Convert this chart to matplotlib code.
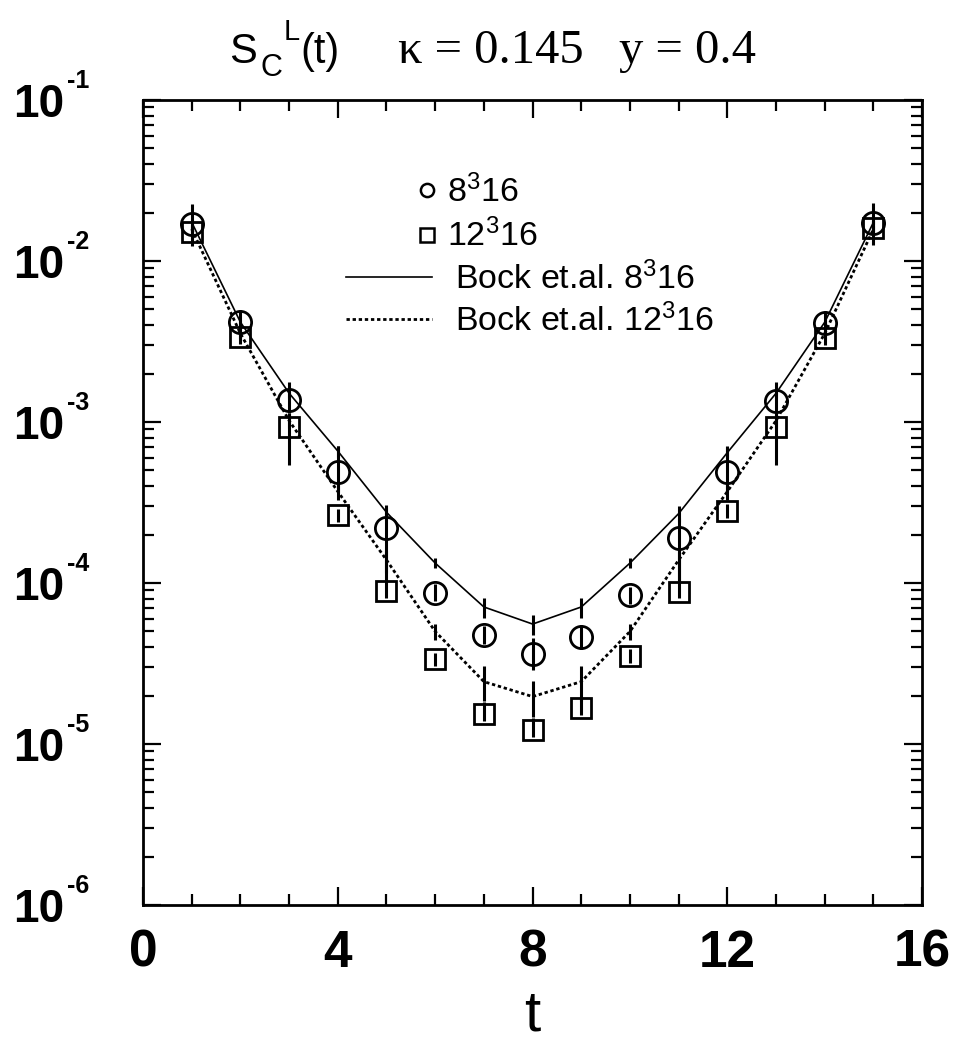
import numpy as np
import matplotlib
matplotlib.use('Agg')
import matplotlib.pyplot as plt
import matplotlib.transforms as mtransforms
from matplotlib.lines import Line2D
from matplotlib.ticker import MultipleLocator, LogLocator, NullFormatter, FixedLocator

# Fonts: bold sans for ticks, serif for the kappa / y part of the title
plt.rcParams['font.family'] = ['Liberation Sans', 'DejaVu Sans']
plt.rcParams['mathtext.fontset'] = 'custom'
plt.rcParams['mathtext.rm'] = 'Liberation Sans'
plt.rcParams['mathtext.sf'] = 'Liberation Sans'
plt.rcParams['mathtext.bf'] = 'Liberation Sans:bold'

# Time slices
t = [1, 2, 3, 4, 5, 6, 7, 8, 9, 10, 11, 12, 13, 14, 15]

# 8^3 16 data (circles)
c_val = [1.71e-2, 4.20e-3, 1.37e-3, 4.86e-4, 2.19e-4, 8.7e-5, 4.75e-5, 3.63e-5,
         4.64e-5, 8.4e-5, 1.90e-4, 4.86e-4, 1.36e-3, 4.14e-3, 1.73e-2]
c_up = [5.5e-3, 6.9e-4, 4.1e-4, 2.2e-4, 7.3e-5, 1.1e-5, 6.5e-6, 9.4e-6,
        8.5e-6, 1.1e-5, 6.3e-5, 2.2e-4, 4.1e-4, 6.9e-4, 5.5e-3]
c_dn = [4.7e-3, 6.3e-4, 2.3e-4, 1.2e-4, 1.04e-4, 1.0e-5, 5.7e-6, 7.5e-6,
        7.5e-6, 1.0e-5, 9.0e-5, 1.2e-4, 2.3e-4, 6.3e-4, 4.7e-3]

# 12^3 16 data (squares)
s_val = [1.52e-2, 3.36e-3, 9.35e-4, 2.64e-4, 8.9e-5, 3.36e-5, 1.53e-5, 1.22e-5,
         1.67e-5, 3.52e-5, 8.85e-5, 2.80e-4, 9.33e-4, 3.31e-3, 1.60e-2]
s_up = [1.5e-3, 3.4e-4, 2.0e-4, 2.6e-5, 3.0e-5, 3.4e-6, 3.0e-6, 2.3e-6,
        3.0e-6, 3.5e-6, 3.0e-5, 2.8e-5, 2.0e-4, 3.3e-4, 1.6e-3]
s_dn = [1.4e-3, 3.0e-4, 3.95e-4, 2.4e-5, 8.0e-6, 3.0e-6, 1.4e-6, 1.1e-6,
        1.5e-6, 3.2e-6, 8.0e-6, 2.5e-5, 3.95e-4, 3.0e-4, 1.4e-3]

# Bock et.al. results
b8_val = [1.74e-2, 4.17e-3, 1.51e-3, 6.6e-4, 2.75e-4, 1.33e-4, 7.1e-5, 5.56e-5,
          7.1e-5, 1.33e-4, 2.7e-4, 6.46e-4, 1.51e-3, 4.17e-3, 1.74e-2]
b8_err = [5e-4, 1.5e-4, 1.0e-4, 5e-5, 3e-5, 9e-6, 1.0e-5, 8e-6,
          1.0e-5, 9e-6, 3e-5, 5e-5, 1.0e-4, 1.5e-4, 5e-4]
b12_val = [1.58e-2, 3.55e-3, 1.02e-3, 3.7e-4, 1.39e-4, 5.0e-5, 2.44e-5, 1.97e-5,
           2.44e-5, 5.0e-5, 1.39e-4, 3.7e-4, 1.02e-3, 3.55e-3, 1.58e-2]
b12_err = [8e-4, 2.5e-4, 1.0e-4, 4e-5, 2e-5, 6e-6, 6e-6, 5e-6,
           6e-6, 6e-6, 2e-5, 4e-5, 1.0e-4, 2.5e-4, 8e-4]

x_ticks = [0, 4, 8, 12, 16]
y_exponents = [-6, -5, -4, -3, -2, -1]

lab_c = r'$\mathsf{8^{3}}$' + '16'
lab_s = r'$\mathsf{12^{3}}$' + '16'
lab_b8 = 'Bock et.al. ' + r'$\mathsf{8^{3}}$' + '16'
lab_b12 = 'Bock et.al. ' + r'$\mathsf{12^{3}}$' + '16'
dotted = (0, (1.2, 1.0))

fig = plt.figure(figsize=(9.56, 10.43), dpi=100)
ax = fig.add_axes([0.1496, 0.1323, 0.815, 0.7718])

# Bock et.al. curves with their small error bars
ax.errorbar(t, b8_val, yerr=b8_err, color='black', lw=1.2, elinewidth=2.2,
            capsize=0, ls='-')
ax.errorbar(t, b12_val, yerr=b12_err, color='black', lw=2.0, elinewidth=2.2,
            capsize=0, ls=dotted)

# Data points
ax.errorbar(t, c_val, yerr=[c_dn, c_up], fmt='o', ms=16, mfc='none', mec='black',
            mew=2.0, color='black', elinewidth=2.2, capsize=0)
ax.errorbar(t, s_val, yerr=[s_dn, s_up], fmt='s', ms=14, mfc='none', mec='black',
            mew=2.0, color='black', elinewidth=2.2, capsize=0)

ax.set_yscale('log')
ax.set_xlim(0, 16)
ax.set_ylim(10.0 ** y_exponents[0], 10.0 ** y_exponents[-1])

# Ticks
ax.xaxis.set_major_locator(FixedLocator(x_ticks))
ax.xaxis.set_minor_locator(MultipleLocator(1))
ax.yaxis.set_major_locator(FixedLocator([10.0 ** e for e in y_exponents]))
ax.yaxis.set_major_formatter(NullFormatter())
ax.yaxis.set_minor_locator(LogLocator(base=10, subs=np.arange(2, 10), numticks=20))
ax.yaxis.set_minor_formatter(NullFormatter())
ax.tick_params(which='both', direction='in', top=True, right=True, width=1.6)
ax.tick_params(which='major', length=13)
ax.tick_params(which='minor', length=8)
ax.tick_params(axis='x', which='major', pad=17, labelsize=37)
for lab in ax.get_xticklabels():
    lab.set_fontweight('bold')
for sp in ax.spines.values():
    sp.set_linewidth(2.0)

# y tick labels "10" with a small raised exponent
ytrans = ax.get_yaxis_transform()
base_off = mtransforms.ScaledTranslation(0, -0.17, fig.dpi_scale_trans)
exp_off = mtransforms.ScaledTranslation(0, 0.12, fig.dpi_scale_trans)
for e in y_exponents:
    ax.text(-0.167, 10.0 ** e, '10', transform=ytrans + base_off, ha='left',
            va='baseline', fontsize=33, fontweight='bold', clip_on=False)
    ax.text(-0.0976, 10.0 ** e, '-%d' % abs(e), transform=ytrans + exp_off, ha='left',
            va='baseline', fontsize=18, fontweight='bold', clip_on=False)

ax.set_xlabel('t', fontsize=42, labelpad=8)

# Legends: markers first, then the two Bock et.al. lines
h_c = Line2D([], [], ls='none', marker='o', ms=9.5, mfc='none', mec='black', mew=1.8)
h_s = Line2D([], [], ls='none', marker='s', ms=9.5, mfc='none', mec='black', mew=1.8)
h_b8 = Line2D([], [], color='black', lw=1.2, ls='-')
h_b12 = Line2D([], [], color='black', lw=2.0, ls=dotted)

leg1 = ax.legend([h_c, h_s], [lab_c, lab_s], loc='upper left', bbox_to_anchor=(0.351, 0.907),
                 frameon=False, fontsize=24.5, handlelength=0.6, handletextpad=0.3,
                 labelspacing=0.28, borderpad=0, borderaxespad=0, numpoints=1)
ax.add_artist(leg1)
ax.legend([h_b8, h_b12], [lab_b8, lab_b12], loc='upper left', bbox_to_anchor=(0.2606, 0.799),
          frameon=False, fontsize=24.5, handlelength=2.53, handletextpad=0.68,
          labelspacing=0.22, borderpad=0, borderaxespad=0)

# Title: S_C^L(t) in sans, kappa and y in serif
fig.text(229 / 956, 1 - 63 / 1043, 'S', fontsize=30, ha='left', va='baseline')
fig.text(260 / 956, 1 - 76 / 1043, 'C', fontsize=22, ha='left', va='baseline')
fig.text(284 / 956, 1 - 40 / 1043, 'L', fontsize=21, ha='left', va='baseline')
fig.text(300 / 956, 1 - 63 / 1043, '(t)', fontsize=30, ha='left', va='baseline')
fig.text(398 / 956, 1 - 63 / 1043, u'\u03ba = 0.145', family='Liberation Serif', fontsize=35,
         ha='left', va='baseline')
fig.text(619 / 956, 1 - 63 / 1043, 'y = 0.4', family='Liberation Serif', fontsize=35,
         ha='left', va='baseline')

fig.savefig('out.png', dpi=100)
